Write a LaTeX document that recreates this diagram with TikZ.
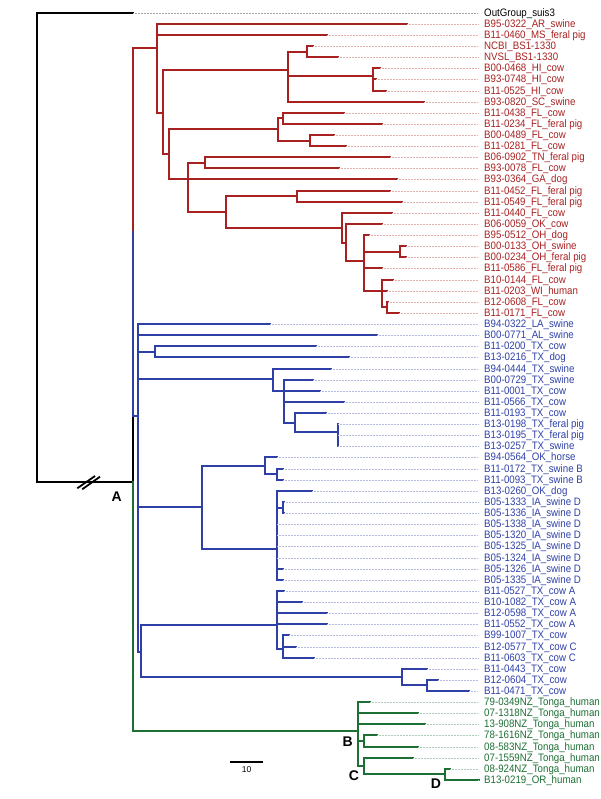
\documentclass[tikz,border=0pt]{standalone}
\usepackage{fontspec}
\newfontfamily\labfont[FakeStretch=0.9]{Liberation Sans}
\newfontfamily\cladefont{Liberation Sans}
\definecolor{cred}{RGB}{168,32,32}
\definecolor{cblue}{RGB}{46,64,168}
\definecolor{cgreen}{RGB}{28,112,52}
\tikzset{
 tree/.style={line width=2pt, line cap=rect},
 lead/.style={line width=0.7pt, dash pattern=on 0.7pt off 0.8pt},
 lab/.style={anchor=base west, inner sep=0pt, font=\labfont\fontsize{10.8}{12}\selectfont},
 clade/.style={font=\cladefont\bfseries\fontsize{14}{14}\selectfont, inner sep=0pt, text=black},
}
% leaf: index, parent x, end x, colour, text
\newcommand\lf[5]{%
  \draw[tree,#4] ({round(#2)},{L(#1)}) -- ({round(#3)},{L(#1)});
  \draw[lead,#4!35] ({round(#3)},{L(#1)+0.5}) -- (478,{L(#1)+0.5});
  \node[lab,text=#4] (n#1) at (484,{L(#1)+3.9}) {#5};}
% vertical: x, y1, y2, colour
\newcommand\vl[4]{\draw[tree,#4] ({round(#1)},{round(#2)}) -- ({round(#1)},{round(#3)});}
% horizontal: x1, x2, y, colour
\newcommand\hl[4]{\draw[tree,#4] ({round(#1)},{round(#3)}) -- ({round(#2)},{round(#3)});}
\begin{document}
\begin{tikzpicture}[x=1pt,y=-1pt, declare function={L(\i)=round(12.7+11.12*(\i-1));}]
\useasboundingbox (0,0) rectangle (600,799);
% root
\vl{36.7}{L(1)}{481.7}{black}
\hl{36.7}{132.7}{481.7}{black}
\lf{1}{36.7}{133.3}{black}{OutGroup\_suis3}
\draw[black,line width=1.8pt] (77.3,488.3) -- (95,476);
\draw[black,line width=1.8pt] (82.2,489.3) -- (100,476.7);
\node[clade] (labA) at (116.7,496.7) {A};
% node A
\vl{132.7}{48.3}{231.7}{cred}
\vl{132.7}{231.7}{415.7}{cblue}
\vl{132.7}{415.7}{481.7}{black}
\vl{132.7}{481.7}{731}{cgreen}
\hl{132.7}{156.7}{48.3}{cred}
\hl{132.7}{137.7}{415.7}{cblue}
\hl{132.7}{358.3}{731}{cgreen}
% ---------------- red clade
\vl{156.7}{L(2)}{112.7}{cred}
\hl{156.7}{162.7}{112.7}{cred}
\vl{162.7}{70.3}{154.3}{cred}
\hl{162.7}{288.3}{70.3}{cred}
\vl{288.3}{51.6}{L(9)}{cred}
\hl{288.3}{306.7}{51.6}{cred}
\vl{306.7}{L(4)}{L(5)}{cred}
\hl{288.3}{372.7}{76.3}{cred}
\vl{372.7}{L(6)}{L(8)}{cred}
\hl{162.7}{169}{154.3}{cred}
\vl{169}{129.3}{L(16)}{cred}
\hl{169}{278}{129.3}{cred}
\vl{278}{118.3}{140.6}{cred}
\hl{278}{282.7}{118.3}{cred}
\vl{282.7}{L(10)}{L(11)}{cred}
\hl{278}{310}{140.6}{cred}
\vl{310}{L(12)}{L(13)}{cred}
\vl{188.3}{162.8}{211.7}{cred}
\hl{188.3}{205}{162.8}{cred}
\vl{205}{L(14)}{L(15)}{cred}
\hl{188.3}{226}{211.7}{cred}
\vl{226}{196.2}{227.7}{cred}
\hl{226}{296.7}{196.2}{cred}
\vl{296.7}{L(17)}{L(18)}{cred}
\hl{226}{341.7}{227.7}{cred}
\vl{341.7}{L(19)}{242.7}{cred}
\hl{341.7}{345.7}{242.7}{cred}
\vl{345.7}{L(20)}{261}{cred}
\hl{345.7}{364}{261}{cred}
\vl{364}{L(21)}{L(26)}{cred}
\hl{364}{400}{251.8}{cred}
\vl{400}{L(22)}{L(23)}{cred}
\vl{381.7}{L(25)}{307.4}{cred}
\hl{381.7}{387.3}{307.4}{cred}
\vl{387.3}{L(27)}{L(28)}{cred}
\lf{2}{156.7}{406.7}{cred}{B95-0322\_AR\_swine}
\lf{3}{156.7}{326.7}{cred}{B11-0460\_MS\_feral pig}
\lf{4}{306.7}{312.7}{cred}{NCBI\_BS1-1330}
\lf{5}{306.7}{337.7}{cred}{NVSL\_BS1-1330}
\lf{6}{372.7}{380}{cred}{B00-0468\_HI\_cow}
\lf{7}{372.7}{376}{cred}{B93-0748\_HI\_cow}
\lf{8}{372.7}{385.7}{cred}{B11-0525\_HI\_cow}
\lf{9}{288.3}{424}{cred}{B93-0820\_SC\_swine}
\lf{10}{282.7}{344.3}{cred}{B11-0438\_FL\_cow}
\lf{11}{282.7}{381.7}{cred}{B11-0234\_FL\_feral pig}
\lf{12}{310}{334}{cred}{B00-0489\_FL\_cow}
\lf{13}{310}{346}{cred}{B11-0281\_FL\_cow}
\lf{14}{205}{390}{cred}{B06-0902\_TN\_feral pig}
\lf{15}{205}{339.3}{cred}{B93-0078\_FL\_cow}
\lf{16}{169}{396.7}{cred}{B93-0364\_GA\_dog}
\lf{17}{296.7}{390}{cred}{B11-0452\_FL\_feral pig}
\lf{18}{296.7}{401.7}{cred}{B11-0549\_FL\_feral pig}
\lf{19}{341.7}{392.3}{cred}{B11-0440\_FL\_cow}
\lf{20}{345.7}{381.7}{cred}{B06-0059\_OK\_cow}
\lf{21}{364}{369}{cred}{B95-0512\_OH\_dog}
\lf{22}{400}{406}{cred}{B00-0133\_OH\_swine}
\lf{23}{400}{406}{cred}{B00-0234\_OH\_feral pig}
\lf{24}{364}{381.7}{cred}{B11-0586\_FL\_feral pig}
\lf{25}{381.7}{393.3}{cred}{B10-0144\_FL\_cow}
\lf{26}{364}{387.3}{cred}{B11-0203\_WI\_human}
\lf{27}{387.3}{388}{cred}{B12-0608\_FL\_cow}
\lf{28}{387.3}{399.3}{cred}{B11-0171\_FL\_cow}
% ---------------- blue clade
\vl{137.7}{L(29)}{651.7}{cblue}
\hl{137.7}{155}{351.7}{cblue}
\vl{155}{L(31)}{L(32)}{cblue}
\hl{137.7}{273.3}{379.2}{cblue}
\vl{273.3}{L(33)}{L(35)}{cblue}
\vl{284}{L(34)}{422.7}{cblue}
\hl{284}{295}{422.7}{cblue}
\vl{295}{L(37)}{431.7}{cblue}
\hl{295}{338.3}{431.7}{cblue}
\vl{338.3}{L(38)}{L(40)}{cblue}
\hl{137.7}{201.7}{507.3}{cblue}
\vl{201.7}{465.7}{549.3}{cblue}
\hl{201.7}{265}{465.7}{cblue}
\vl{265}{L(41)}{474}{cblue}
\hl{265}{276.7}{474}{cblue}
\vl{276.7}{L(42)}{L(43)}{cblue}
\hl{201.7}{276.7}{549.3}{cblue}
\vl{276.7}{L(44)}{L(52)}{cblue}
\hl{276.7}{282.7}{507.5}{cblue}
\vl{282.7}{L(45)}{L(46)}{cblue}
\hl{137.7}{140.7}{651.7}{cblue}
\vl{140.7}{624.5}{677.3}{cblue}
\hl{140.7}{277.3}{624.5}{cblue}
\vl{277.3}{L(53)}{649.3}{cblue}
\hl{277.3}{283.3}{649.3}{cblue}
\vl{283.3}{L(57)}{L(59)}{cblue}
\hl{140.7}{401.7}{677.3}{cblue}
\vl{401.7}{L(60)}{685.3}{cblue}
\hl{401.7}{426.7}{685.3}{cblue}
\vl{426.7}{L(61)}{L(62)}{cblue}
\lf{29}{137.7}{270}{cblue}{B94-0322\_LA\_swine}
\lf{30}{137.7}{377.3}{cblue}{B00-0771\_AL\_swine}
\lf{31}{155}{316}{cblue}{B11-0200\_TX\_cow}
\lf{32}{155}{349}{cblue}{B13-0216\_TX\_dog}
\lf{33}{273.3}{331}{cblue}{B94-0444\_TX\_swine}
\lf{34}{284}{313.3}{cblue}{B00-0729\_TX\_swine}
\lf{35}{273.3}{320}{cblue}{B11-0001\_TX\_cow}
\lf{36}{284}{344}{cblue}{B11-0566\_TX\_cow}
\lf{37}{295}{326}{cblue}{B11-0193\_TX\_cow}
\lf{38}{338.3}{338.3}{cblue}{B13-0198\_TX\_feral pig}
\lf{39}{338.3}{338.3}{cblue}{B13-0195\_TX\_feral pig}
\lf{40}{338.3}{338.3}{cblue}{B13-0257\_TX\_swine}
\lf{41}{265}{276.7}{cblue}{B94-0564\_OK\_horse}
\lf{42}{276.7}{283}{cblue}{B11-0172\_TX\_swine B}
\lf{43}{276.7}{283}{cblue}{B11-0093\_TX\_swine B}
\lf{44}{276.7}{312.3}{cblue}{B13-0260\_OK\_dog}
\lf{45}{282.7}{283.5}{cblue}{B05-1333\_IA\_swine D}
\lf{46}{282.7}{283.5}{cblue}{B05-1336\_IA\_swine D}
\lf{47}{276.7}{277}{cblue}{B05-1338\_IA\_swine D}
\lf{48}{276.7}{277}{cblue}{B05-1320\_IA\_swine D}
\lf{49}{276.7}{277}{cblue}{B05-1325\_IA\_swine D}
\lf{50}{276.7}{277}{cblue}{B05-1324\_IA\_swine D}
\lf{51}{276.7}{282.7}{cblue}{B05-1326\_IA\_swine D}
\lf{52}{276.7}{282.7}{cblue}{B05-1335\_IA\_swine D}
\lf{53}{277.3}{284.3}{cblue}{B11-0527\_TX\_cow A}
\lf{54}{277.3}{301.7}{cblue}{B10-1082\_TX\_cow A}
\lf{55}{277.3}{326.7}{cblue}{B12-0598\_TX\_cow A}
\lf{56}{277.3}{326.7}{cblue}{B11-0552\_TX\_cow A}
\lf{57}{283.3}{289.3}{cblue}{B99-1007\_TX\_cow}
\lf{58}{283.3}{295.7}{cblue}{B12-0577\_TX\_cow C}
\lf{59}{283.3}{314.3}{cblue}{B11-0603\_TX\_cow C}
\lf{60}{401.7}{426.7}{cblue}{B11-0443\_TX\_cow}
\lf{61}{426.7}{438.3}{cblue}{B12-0604\_TX\_cow}
\lf{62}{426.7}{469.3}{cblue}{B11-0471\_TX\_cow}
% ---------------- green clade
\vl{358.3}{L(63)}{766}{cgreen}
\hl{358.3}{364}{741}{cgreen}
\vl{364}{L(66)}{L(67)}{cgreen}
\hl{358.3}{364}{766}{cgreen}
\vl{364}{L(68)}{774.4}{cgreen}
\hl{364}{445}{774.4}{cgreen}
\vl{445}{L(69)}{L(70)}{cgreen}
\lf{63}{358.3}{370}{cgreen}{79-0349NZ\_Tonga\_human}
\lf{64}{358.3}{418.3}{cgreen}{07-1318NZ\_Tonga\_human}
\lf{65}{358.3}{425}{cgreen}{13-908NZ\_Tonga\_human}
\lf{66}{364}{376.7}{cgreen}{78-1616NZ\_Tonga\_human}
\lf{67}{364}{418.3}{cgreen}{08-583NZ\_Tonga\_human}
\lf{68}{364}{413.3}{cgreen}{07-1559NZ\_Tonga\_human}
\lf{69}{445}{450}{cgreen}{08-924NZ\_Tonga\_human}
\lf{70}{445}{479}{cgreen}{B13-0219\_OR\_human}
\node[clade] (labB) at (347.7,741.7) {B};
\node[clade] (labC) at (354,775.5) {C};
\node[clade] (labD) at (436,783.5) {D};
% scale bar
\coordinate (s0) at (230,762);
\coordinate (s1) at (263.3,762);
\draw[black,line width=1.2pt] (s0) -- (s1);
\node[font=\cladefont\fontsize{8.5}{9}\selectfont, inner sep=0pt] (slab) at (246.7,769.5) {10};
\end{tikzpicture}
\end{document}
